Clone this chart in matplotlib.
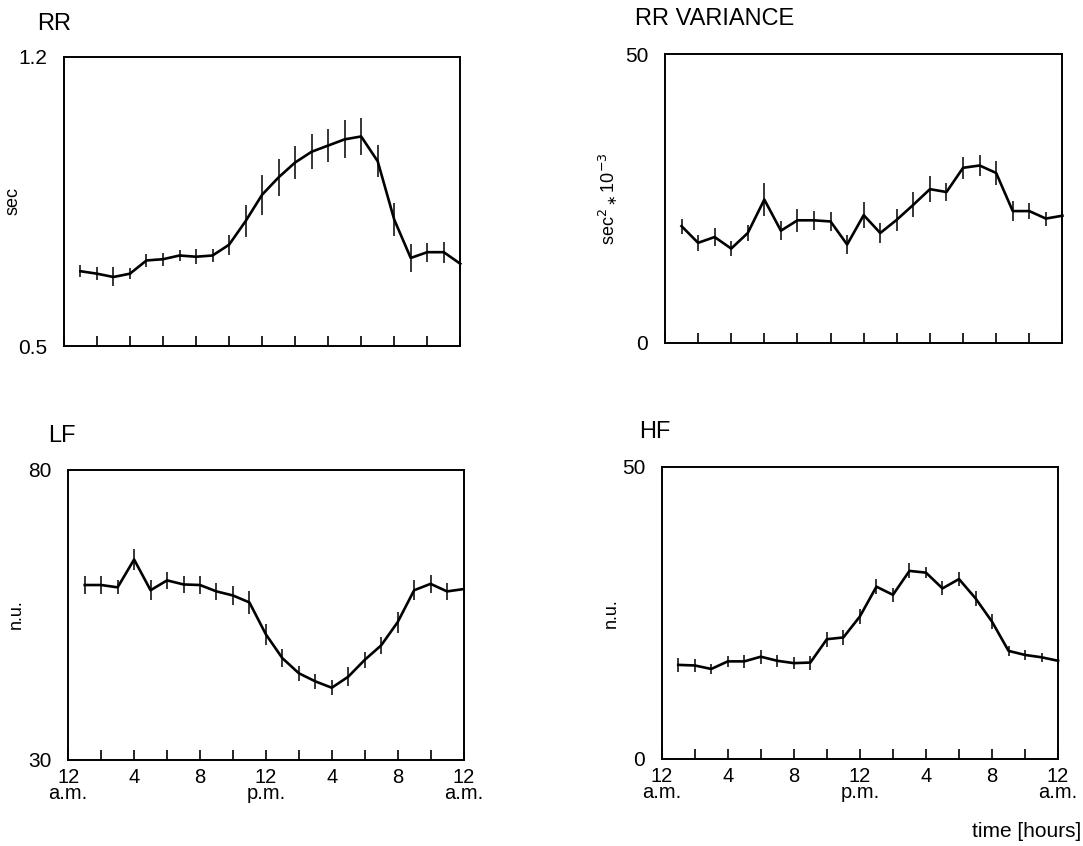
import matplotlib
matplotlib.use('Agg')
import matplotlib.pyplot as plt

plt.rcParams['font.family'] = ['Liberation Sans', 'DejaVu Sans']

# hourly means +- error, hour 1..24
hours = list(range(1, 25))

rr = [0.681, 0.675, 0.667, 0.675, 0.707, 0.710, 0.719, 0.716, 0.719, 0.745, 0.802, 0.866,
      0.908, 0.944, 0.970, 0.985, 1.000, 1.007, 0.947, 0.806, 0.713, 0.727, 0.727, 0.699]
rr_err = [0.014, 0.016, 0.023, 0.014, 0.016, 0.016, 0.014, 0.018, 0.016, 0.024, 0.039, 0.048,
          0.045, 0.040, 0.042, 0.040, 0.046, 0.045, 0.039, 0.040, 0.034, 0.023, 0.025, 0.018]

rr_var = [20.2, 17.3, 18.3, 16.3, 19.0, 24.8, 19.4, 21.2, 21.2, 21.0, 17.0, 22.1,
          19.0, 21.3, 23.9, 26.6, 26.1, 30.3, 30.7, 29.4, 22.8, 22.8, 21.5, 22.0]
rr_var_err = [1.3, 1.4, 1.6, 1.3, 1.4, 2.9, 1.6, 2.0, 1.7, 1.6, 1.7, 2.3,
              1.7, 1.9, 2.2, 2.2, 1.6, 1.9, 1.9, 2.0, 1.7, 1.4, 1.2, 0.9]

lf = [60.1, 60.1, 59.7, 64.5, 59.2, 60.9, 60.2, 60.1, 59.0, 58.3, 57.1, 51.6,
      47.5, 44.9, 43.5, 42.4, 44.3, 47.2, 49.7, 53.7, 59.2, 60.3, 59.0, 59.4]
lf_err = [1.5, 1.5, 1.2, 1.8, 1.7, 1.5, 1.5, 1.5, 1.5, 1.6, 2.0, 1.8,
          1.6, 1.3, 1.3, 1.3, 1.6, 1.4, 1.4, 1.8, 1.7, 1.5, 1.4, 1.2]

hf = [16.1, 16.0, 15.4, 16.7, 16.7, 17.5, 16.8, 16.4, 16.5, 20.5, 20.8, 24.4,
      29.5, 28.1, 32.2, 31.9, 29.2, 30.8, 27.5, 23.5, 18.5, 17.8, 17.4, 16.8]
hf_err = [1.2, 1.1, 0.8, 1.0, 1.1, 1.2, 1.0, 1.0, 1.2, 1.3, 1.3, 1.3,
          1.3, 1.2, 1.3, 1.0, 1.2, 1.2, 1.3, 1.3, 0.8, 0.8, 0.8, 0.6]

xtick_pos = [0, 4, 8, 12, 16, 20, 24]
xtick_labels = ['12\na.m.', '4', '8', '12\np.m.', '4', '8', '12\na.m.']

panels = [
    # title, y, err, ylim, yticklabels, ylabel, rect, bottom row, title xy, ylabel x
    ('RR', rr, rr_err, (0.5, 1.2), ['0.5', '1.2'], 'sec',
     [0.059, 0.591, 0.366, 0.342], False, (-0.068, 0.076), -0.106),
    ('RR VARIANCE', rr_var, rr_var_err, (0, 50), ['0', '50'], r'sec$^2$$_\ast$10$^{-3}$',
     [0.614, 0.595, 0.367, 0.341], False, (-0.076, 0.083), -0.113),
    ('LF', lf, lf_err, (30, 80), ['30', '80'], 'n.u.',
     [0.063, 0.102, 0.365, 0.343], True, (-0.05, 0.079), -0.109),
    ('HF', hf, hf_err, (0, 50), ['0', '50'], 'n.u.',
     [0.611, 0.103, 0.366, 0.345], True, (-0.056, 0.082), -0.106),
]

fig = plt.figure(figsize=(10.83, 8.46), dpi=100)

for title, y, err, ylim, ylabs, ylabel, rect, bottom, txy, ylx in panels:
    ax = fig.add_axes(rect)
    ax.errorbar(hours, y, yerr=err, color='black', lw=1.9, elinewidth=1.1,
                capsize=0, clip_on=False)
    ax.set_xlim(0, 24)
    ax.set_ylim(*ylim)
    for s in ax.spines.values():
        s.set_linewidth(1.4)
    ax.set_xticks(range(0, 25, 2))
    ax.tick_params(axis='x', direction='in', length=7, width=1.2)
    if bottom:
        ax.set_xticks(xtick_pos, xtick_labels, fontsize=14.5, linespacing=0.8)
        ax.set_xticks(range(0, 25, 2), minor=True)
        ax.tick_params(axis='x', which='both', direction='in', length=7, width=1.2, pad=6)
    else:
        ax.set_xticklabels([])
    ax.set_yticks(ylim, ylabs, fontsize=15)
    ax.tick_params(axis='y', length=0, pad=12)
    ax.set_ylabel(ylabel, fontsize=13)
    ax.yaxis.set_label_coords(ylx, 0.5)
    ax.text(txy[0], 1 + txy[1], title, transform=ax.transAxes, fontsize=17,
            ha='left', va='bottom')

fig.text(0.998, 0.006, 'time [hours]', fontsize=15, ha='right', va='bottom')

fig.savefig('out.png', dpi=100)
